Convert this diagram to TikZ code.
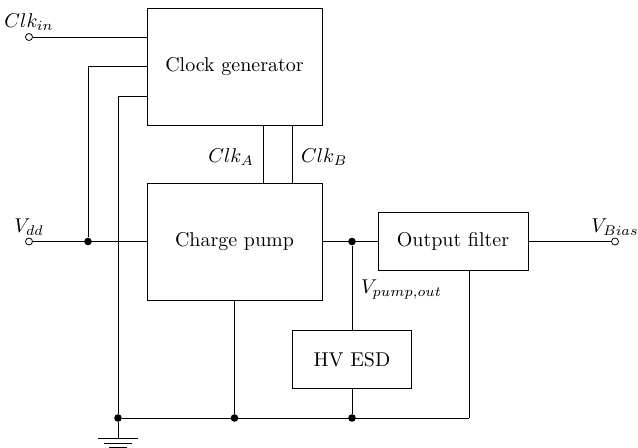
\documentclass[tikz,border=0pt]{standalone}
\begin{document}
\begin{tikzpicture}[x=0.5pt, y=-0.5pt]
        \tikzset{
            bigblock/.style={
                draw,
                minimum width=87.5pt,
                minimum height=58.5pt,
                align=center
            },
            smallblock/.style={
                draw,
                minimum height=29pt,
                align=center
            },
            terminal/.style={
                circle, draw, fill=white,
                inner sep=0pt, minimum size=3.5pt
            },
            junction/.style={
                circle, fill=black,
                inner sep=0pt, minimum size=3.8pt
            },
            wire/.style={draw}
        }

        \useasboundingbox (0,0) rectangle (638,448);

        \node[bigblock] (clkgen) at (234.5, 66.5) {Clock generator};
        \node[bigblock] (pump) at (234.5, 241.5) {Charge pump};
        \node[smallblock, minimum width=75pt] (filter) at (453, 241.5) {Output filter};
        \node[smallblock, minimum width=59.5pt] (esd) at (352, 359.5) {HV ESD};

        \node[terminal, label={[inner sep=1pt]above:$Clk_{in}$}] (clkin) at (29, 37) {};
        \node[terminal, label={[inner sep=1pt]above:$V_{dd}$}] (vdd) at (29, 241.5) {};
        \node[terminal, label={[inner sep=1pt]above:$V_{Bias}$}] (vbias) at (615, 241.5) {};

        \coordinate (clkbot) at (147, 96);
        \coordinate (clka) at (263, 125);
        \coordinate (clkb) at (292, 125);
        \coordinate (fout) at (469, 270);
        \coordinate (gnd) at (118, 418);
        \coordinate (gndend) at (469, 418);
        \coordinate (gndtop) at (118, 438);

        \node[junction] (jvdd) at (88, 241.5) {};
        \node[junction] (jout) at (352, 241.5) {};
        \node[junction] (jgnd) at (gnd) {};
        \node[junction] (jpump) at (234.5, 418) {};
        \node[junction] (jesd) at (352, 418) {};

        \draw[wire] (clkin) -- (clkin -| clkgen.west);
        \draw[wire] (jvdd) |- (clkgen.west);
        \draw[wire] (jgnd) |- (clkbot);
        \draw[wire] (vdd) -- (pump.west);
        \draw[wire] (clka) -- (clka |- pump.north);
        \draw[wire] (clkb) -- (clkb |- pump.north);
        \draw[wire] (pump.east) -- (filter.west);
        \draw[wire] (filter.east) -- (vbias);
        \draw[wire] (jout) -- (esd.north);
        \draw[wire] (esd.south) -- (jesd);
        \draw[wire] (pump.south) -- (jpump);
        \draw[wire] (fout) -- (gndend);
        \draw[wire] (jgnd) -- (gndend);

        \draw[wire] (jgnd) -- (gndtop);
        \draw[wire] ([xshift=-10pt]gndtop) -- ([xshift=10pt]gndtop);
        \draw[wire] ([xshift=-7pt, yshift=-2.7pt]gndtop) -- ([xshift=7pt, yshift=-2.7pt]gndtop);
        \draw[wire] ([xshift=-4.5pt, yshift=-4.7pt]gndtop) -- ([xshift=4.5pt, yshift=-4.7pt]gndtop);

        \node[anchor=east] (lbla) at (261, 157) {$Clk_A$};
        \node[anchor=west] (lblb) at (294, 157) {$Clk_B$};
        \node[anchor=west] (lblout) at (354, 290) {$V_{pump,out}$};
    \end{tikzpicture}
\end{document}
